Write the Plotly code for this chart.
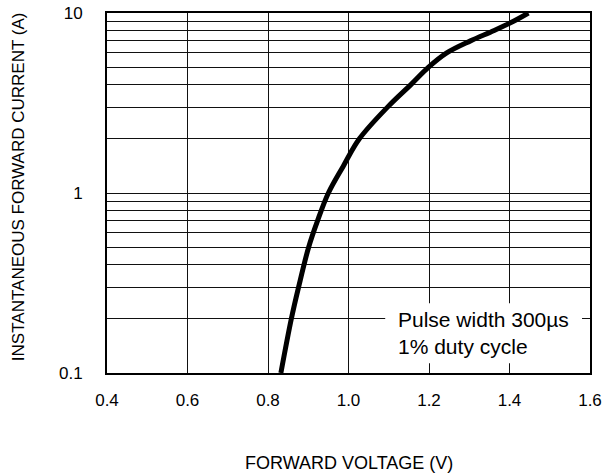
import plotly.graph_objects as go

# Forward characteristic
current_a = [0.1, 0.2, 0.3, 0.5, 0.7, 1.0, 1.41, 2.0, 3.0, 4.0, 5.0, 6.0, 7.0, 8.0, 9.0, 10.0]
voltage_v = [0.832, 0.858, 0.876, 0.901, 0.923, 0.950, 0.987, 1.027, 1.097, 1.155, 1.199, 1.244, 1.303, 1.362, 1.410, 1.447]

x_ticks = [0.4, 0.6, 0.8, 1.0, 1.2, 1.4, 1.6]
y_ticks = [0.1, 0.2, 0.3, 0.4, 0.5, 0.6, 0.7, 0.8, 0.9,
           1, 2, 3, 4, 5, 6, 7, 8, 9, 10]
y_labels = ["0.1"] + [""] * 8 + ["1"] + [""] * 8 + ["10"]

note_lines = ["Pulse width 300µs", "1% duty cycle"]

FONT = "Liberation Sans, Arial, sans-serif"

fig = go.Figure()
fig.add_trace(go.Scatter(x=voltage_v, y=current_a, mode="lines",
                         line=dict(color="black", width=5, shape="spline", smoothing=1.0),
                         hoverinfo="skip", showlegend=False, cliponaxis=True))

fig.update_layout(
    template="none",
    width=614, height=475,
    margin=dict(l=107, r=24, t=13, b=102),
    paper_bgcolor="white", plot_bgcolor="white",
    font=dict(family=FONT, color="black"),
    showlegend=False,
    xaxis=dict(range=[0.4, 1.6], tickvals=x_ticks, tickformat=".1f",
               showgrid=True, gridcolor="#111", gridwidth=1,
               showline=True, linecolor="black", linewidth=2, mirror="ticks",
               ticks="inside", ticklen=5, tickcolor="#111", tickwidth=1,
               tickfont=dict(size=17), ticklabelstandoff=11, zeroline=False,
               ticklabeloverflow="allow", automargin=False),
    yaxis=dict(type="log", range=[-1, 1], tickvals=y_ticks, ticktext=y_labels,
               showgrid=True, gridcolor="#111", gridwidth=1,
               showline=True, linecolor="black", linewidth=2, mirror="ticks",
               ticks="inside", ticklen=5, tickcolor="#111", tickwidth=1,
               tickfont=dict(size=17), ticklabelstandoff=19, zeroline=False,
               ticklabeloverflow="allow", automargin=False),
    shapes=[
        dict(type="rect", xref="paper", yref="paper", x0=0.576, x1=0.9835, y0=0.027, y1=0.194,
             fillcolor="white", line=dict(width=0), layer="above"),
    ],
    annotations=[
        dict(text="<br>".join(note_lines), xref="paper", yref="paper",
             x=0.598, y=0.11, xanchor="left", yanchor="middle", align="left",
             showarrow=False, font=dict(size=21, family=FONT, color="black")),
        dict(text="FORWARD VOLTAGE (V)", xref="paper", yref="paper",
             x=0.5, y=-0.251, xanchor="center", yanchor="middle", showarrow=False,
             font=dict(size=18, family=FONT, color="black")),
        dict(text="INSTANTANEOUS FORWARD CURRENT (A)", xref="paper", yref="paper",
             x=-0.183, y=0.518, xanchor="center", yanchor="middle", textangle=-90,
             showarrow=False, font=dict(size=17, family=FONT, color="black")),
    ],
)

fig.write_html("out.html", config={"displayModeBar": False},
               post_script="document.body.style.margin='0';")
